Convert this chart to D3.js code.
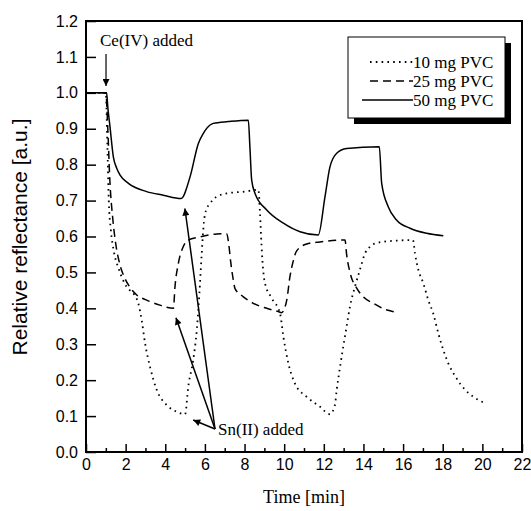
<!DOCTYPE html>
<html><head><meta charset="utf-8">
<script src="https://cdn.jsdelivr.net/npm/d3@7"></script>
<style>body{margin:0;background:#fff}</style>
</head><body>
<script>
// ---- data ----
const t10 = [0,1.0,1.08,1.15,1.25,1.4,1.65,2.05,2.45,2.64,2.81,2.98,3.23,3.57,4.07,4.58,5.0,5.16,5.41,5.59,5.72,5.84,5.95,6.05,6.26,6.59,7.1,8.0,8.7,8.78,8.86,8.95,9.03,9.37,9.79,9.96,10.21,10.54,11.13,11.81,12.31,12.56,12.65,12.82,12.98,13.15,13.32,13.57,13.82,14.08,14.3,14.6,15.5,16.5,16.6,16.77,17.02,17.27,17.52,17.78,18.03,18.28,18.7,19.1,19.54,20.21];
const v10 = [1.0,1.0,0.85,0.7,0.62,0.56,0.51,0.46,0.437,0.414,0.367,0.303,0.237,0.173,0.131,0.112,0.105,0.182,0.256,0.34,0.44,0.553,0.64,0.672,0.692,0.711,0.72,0.725,0.73,0.664,0.572,0.5,0.47,0.428,0.386,0.321,0.247,0.191,0.154,0.126,0.105,0.131,0.173,0.237,0.293,0.349,0.405,0.46,0.507,0.553,0.57,0.581,0.588,0.59,0.553,0.507,0.47,0.423,0.386,0.33,0.284,0.247,0.205,0.175,0.154,0.134];
const t25 = [0,1.0,1.1,1.2,1.35,1.5,1.72,1.95,2.2,2.56,3.06,3.73,4.41,4.49,4.66,4.91,5.16,5.75,6.59,7.1,7.2,7.3,7.43,7.52,7.94,8.44,9.12,9.7,9.87,10.13,10.29,10.45,10.63,11.13,11.8,12.98,13.07,13.15,13.32,13.66,13.99,14.5,15.09,15.67,15.76];
const v25 = [1,1,0.9,0.76,0.65,0.58,0.52,0.485,0.46,0.437,0.423,0.409,0.40,0.46,0.525,0.572,0.59,0.599,0.607,0.608,0.58,0.53,0.48,0.455,0.432,0.414,0.40,0.391,0.388,0.423,0.488,0.53,0.56,0.579,0.585,0.59,0.59,0.55,0.50,0.456,0.432,0.414,0.397,0.388,0.386];
const t50 = [0,1.04,1.1,1.21,1.38,1.55,1.72,2.14,3.06,3.9,4.8,5.25,5.67,5.9,6.09,6.42,7.18,8.19,8.27,8.36,8.53,9.12,9.96,10.8,11.72,12.06,12.31,12.65,13.15,14.8,14.92,15.25,15.67,16.35,17.19,18.03];
const v50 = [1,1,0.96,0.906,0.822,0.79,0.771,0.748,0.725,0.715,0.706,0.766,0.859,0.885,0.901,0.915,0.92,0.924,0.85,0.757,0.72,0.674,0.637,0.613,0.604,0.711,0.794,0.832,0.845,0.85,0.748,0.683,0.646,0.623,0.609,0.602];
const seriesNames = ["10 mg PVC","25 mg PVC","50 mg PVC"];
const xTicks = [0,2,4,6,8,10,12,14,16,18,20,22];
const xMinor = [1,3,5,7,9,11,13,15,17,19,21];
const yTicks = [0,0.1,0.2,0.3,0.4,0.5,0.6,0.7,0.8,0.9,1.0,1.1,1.2];
const xTitle = "Time [min]";
const yTitle = "Relative reflectance [a.u.]";
const ceLabel = "Ce(IV) added";
const snLabel = "Sn(II) added";
// annotation anchor points in data units [t, v]
const ceArrow = [[1.01,1.108],[1.01,1.019]];
const snApex = [6.51,0.064];
const snTips = [[5.41,0.089],[4.54,0.374],[4.99,0.678]];

// ---- chart ----
const W=531,H=511, L=86, R=522, T=21, B=452;
const svg = d3.select("body").append("svg").attr("width",W).attr("height",H);
const x = d3.scaleLinear().domain([0,22]).range([L,R]);
const y = d3.scaleLinear().domain([0,1.2]).range([B,T]);
const sans = "'Liberation Sans', Arial, sans-serif";
const serif = "'Liberation Serif', 'Times New Roman', serif";

const defs = svg.append("defs");
defs.append("marker").attr("id","ah").attr("viewBox","0 0 10 10").attr("refX",10).attr("refY",5)
  .attr("markerWidth",9).attr("markerHeight",7).attr("markerUnits","userSpaceOnUse").attr("orient","auto")
  .append("path").attr("d","M0,0L10,5L0,10Z").attr("fill","#000");

// axes
const gx = svg.append("g").attr("transform",`translate(0,${B})`)
  .call(d3.axisBottom(x).tickValues(xTicks).tickSizeInner(-8).tickSizeOuter(0).tickPadding(7).tickFormat(d3.format("d")));
svg.append("g").attr("transform",`translate(0,${B})`)
  .call(d3.axisBottom(x).tickValues(xMinor).tickSizeInner(-4).tickSizeOuter(0).tickFormat(""))
  .select(".domain").remove();
const gy = svg.append("g").attr("transform",`translate(${L},0)`)
  .call(d3.axisLeft(y).tickValues(yTicks).tickSizeInner(-10).tickSizeOuter(0).tickPadding(8).tickFormat(d3.format(".1f")));
svg.selectAll(".tick line").attr("stroke","#000").attr("stroke-width",1.5);
svg.selectAll(".domain").remove();
svg.selectAll(".tick text").attr("font-family",sans).attr("font-size",16).attr("fill","#000");

svg.append("rect").attr("x",L).attr("y",T).attr("width",R-L).attr("height",B-T)
  .attr("fill","none").attr("stroke","#000").attr("stroke-width",2);

// series
const line = d3.line().x(d=>x(d[0])).y(d=>y(d[1])).curve(d3.curveMonotoneX);
const styles = [
  {dash:"1.6,4.2", w:1.8, cap:"butt"},
  {dash:"8,5", w:1.5, cap:"butt"},
  {dash:null, w:1.5, cap:"butt"}
];
[[t10,v10],[t25,v25],[t50,v50]].forEach(([ts,vs],i)=>{
  const p = svg.append("path").datum(ts.map((t,j)=>[t,vs[j]]))
    .attr("d",line).attr("fill","none").attr("stroke","#000")
    .attr("stroke-width",styles[i].w);
  if(styles[i].dash) p.attr("stroke-dasharray",styles[i].dash);
});

// legend
const lg = svg.append("g");
lg.append("rect").attr("x",354).attr("y",43).attr("width",157).attr("height",81).attr("fill","#000");
lg.append("rect").attr("x",348).attr("y",37).attr("width",157).attr("height",81).attr("fill","#fff").attr("stroke","#000").attr("stroke-width",1);
const ly=[62,81,100];
seriesNames.forEach((n,i)=>{
  const p = lg.append("line").attr("x1", i==2?362:370).attr("x2",413).attr("y1",ly[i]).attr("y2",ly[i])
    .attr("stroke","#000").attr("stroke-width",styles[i].w);
  if(styles[i].dash) p.attr("stroke-dasharray",styles[i].dash);
  lg.append("text").attr("x",413).attr("y",ly[i]).attr("dy","0.35em").attr("font-family",serif)
    .attr("font-size",17).text(n);
});

// annotations
svg.append("text").attr("x",100).attr("y",46).attr("font-family",serif).attr("font-size",17).text(ceLabel);
svg.append("line").attr("x1",x(ceArrow[0][0])).attr("y1",y(ceArrow[0][1])).attr("x2",x(ceArrow[1][0])).attr("y2",y(ceArrow[1][1]))
  .attr("stroke","#000").attr("stroke-width",1.2).attr("marker-end","url(#ah)");
svg.append("text").attr("x",x(snApex[0])+3).attr("y",y(snApex[1])).attr("dy","0.35em").attr("font-family",serif).attr("font-size",17).text(snLabel);
snTips.forEach(tp=>{
  svg.append("line").attr("x1",x(snApex[0])).attr("y1",y(snApex[1])).attr("x2",x(tp[0])).attr("y2",y(tp[1]))
    .attr("stroke","#000").attr("stroke-width",1.5).attr("marker-end","url(#ah)");
});

// titles
svg.append("text").attr("x",304).attr("y",503).attr("text-anchor","middle").attr("font-family",serif).attr("font-size",18).text(xTitle);
svg.append("text").attr("transform",`translate(27,237) rotate(-90)`).attr("text-anchor","middle")
  .attr("font-family",sans).attr("font-size",21).text(yTitle);
</script>
</body></html>
